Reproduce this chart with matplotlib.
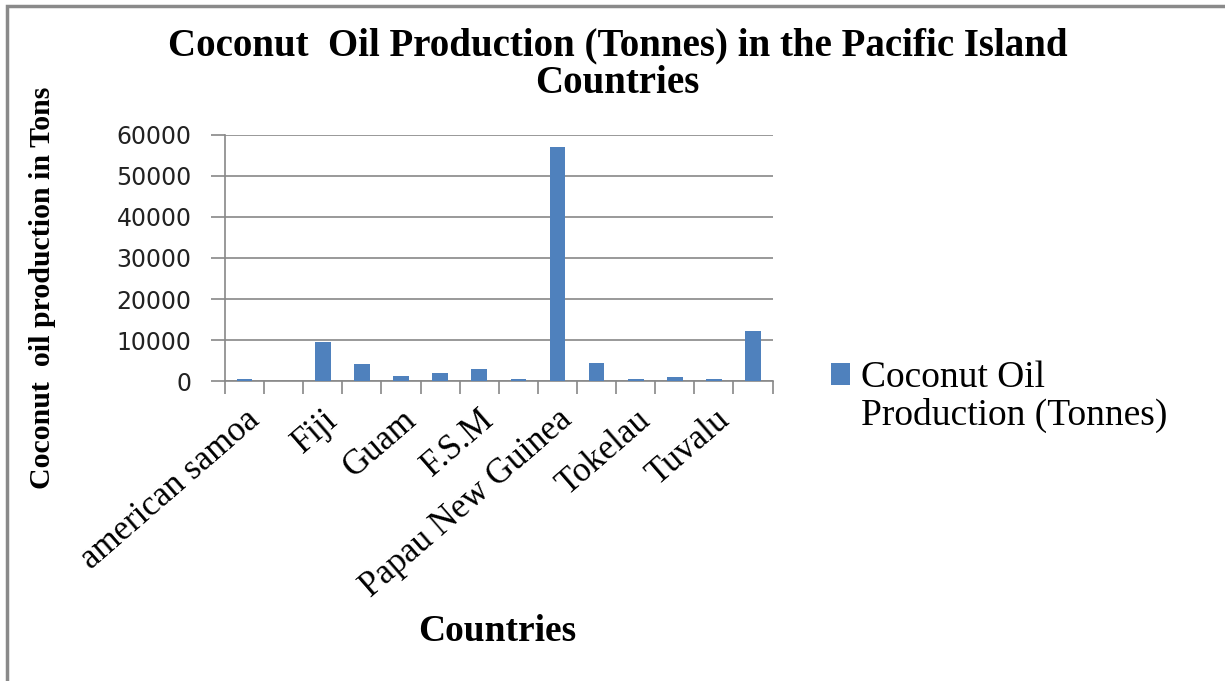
import matplotlib
matplotlib.use("Agg")
import matplotlib.pyplot as plt
import numpy as np
from matplotlib.patches import Rectangle

# data
countries = ['american samoa', 'Cook Islands', 'Fiji', 'French Polynesia', 'Guam',
             'Kiribati', 'F.S.M', 'New Caledonia', 'Papau New Guinea', 'Samoa',
             'Tokelau', 'Tonga', 'Tuvalu', 'Vanuatu']
production = [400, 0, 9400, 4100, 1300, 1900, 2850, 400, 57000, 4400, 400, 1000, 400, 12200]
shown_labels = ['american samoa', 'Fiji', 'Guam', 'F.S.M', 'Papau New Guinea', 'Tokelau', 'Tuvalu']
yticks = [0, 10000, 20000, 30000, 40000, 50000, 60000]

bar_color = '#4F81BD'
grid_color = '#888888'
serif = 'Liberation Serif'

fig = plt.figure(figsize=(12.25, 6.81), dpi=100)
ax = fig.add_axes([0.1837, 0.4405, 0.447, 0.3613])

x = np.arange(len(countries))
bars = ax.bar(x, production, width=0.4, color=bar_color, zorder=3)

ax.set_xlim(-0.5, len(countries) - 0.5)
ax.set_ylim(0, 60000)
ax.set_yticks(yticks)
ax.set_yticklabels([str(v) for v in yticks], fontsize=17, family='DejaVu Sans', color='#222222')
ax.yaxis.grid(True, color=grid_color, linewidth=1.2, zorder=0)
ax.tick_params(axis='y', length=10, width=1.2, color=grid_color, pad=14)

# category boundary ticks, labels on every second category
ax.set_xticks(np.arange(-0.5, len(countries), 1.0))
ax.set_xticklabels([])
ax.tick_params(axis='x', which='major', length=9, width=1.2, color=grid_color)
ax.set_xticks(x[::2], minor=True)
ax.set_xticklabels(shown_labels, minor=True, rotation=41, ha='right',
                   rotation_mode='anchor', fontsize=25, family=serif)
ax.tick_params(axis='x', which='minor', length=0, pad=16)

for side in ['top', 'right']:
    ax.spines[side].set_visible(False)
for side in ['left', 'bottom']:
    ax.spines[side].set_color(grid_color)
    ax.spines[side].set_linewidth(1.2)

fig.text(0.504, 0.905, 'Coconut  Oil Production (Tonnes) in the Pacific Island\nCountries',
         ha='center', va='center', fontsize=28, fontweight='bold', family=serif,
         linespacing=1.0)
fig.text(0.035, 0.578, 'Coconut  oil production in Tons', rotation=90, ha='center',
         va='center', fontsize=21.5, fontweight='bold', family=serif)
fig.text(0.406, 0.073, 'Countries', ha='center', va='center', fontsize=27,
         fontweight='bold', family=serif)

# legend: marker sits beside the first line of the two-line label
blank = Rectangle((0, 0), 1, 1, fill=False, edgecolor='none')
leg = ax.legend([bars, blank], ['Coconut Oil', 'Production (Tonnes)'],
                loc='center left', bbox_to_anchor=(1.08, -0.065), frameon=False,
                prop={'family': serif, 'size': 27}, handlelength=0.5, handleheight=0.5,
                handletextpad=0.3, labelspacing=0.08, borderaxespad=0)

# outer frame
fig.patches.append(Rectangle((7 / 1225, -0.05), 1.1, 1.05 - 6 / 681, transform=fig.transFigure,
                             fill=False, edgecolor='#8a8a8a', linewidth=2.5))

fig.savefig('out.png', dpi=100)
